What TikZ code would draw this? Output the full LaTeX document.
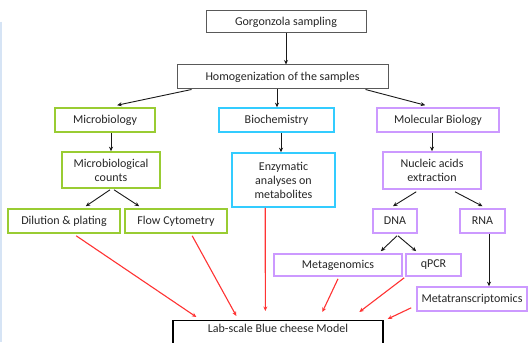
\documentclass[tikz,border=0pt]{standalone}
\usepackage{fontspec}
\setmainfont{Carlito}
\usetikzlibrary{arrows.meta,calc}
\definecolor{bgreen}{HTML}{99CC33}
\definecolor{bcyan}{HTML}{33CCFF}
\definecolor{bpurple}{HTML}{CC99FF}
\definecolor{ared}{HTML}{FF3333}
\definecolor{edgeblue}{HTML}{D6E4F5}
\begin{document}
\begin{tikzpicture}[x=1pt,y=-1pt,
  every node/.style={font=\fontsize{12}{14}\selectfont, text=black!85, align=center, inner sep=0pt},
  box/.style={draw, rectangle, minimum width=#1},
  gbox/.style={box=#1, draw=black!65, line width=1pt},
  grbox/.style={box=#1, draw=bgreen, line width=1.6pt},
  cybox/.style={box=#1, draw=bcyan, line width=1.6pt},
  pubox/.style={box=#1, draw=bpurple, line width=1.6pt},
  blk/.style={draw=black!90, line width=0.9pt, -{Stealth[length=4.5pt,width=4pt]}},
  redarr/.style={draw=ared, line width=1.1pt, -{Stealth[length=4.5pt,width=4pt]}}
]
\path[use as bounding box] (0,0) rectangle (529,342);
\fill[white] (0,0) rectangle (529,342);
\draw[edgeblue, line width=1.5pt] (1,22) -- (1,342);

\node[gbox=160, minimum height=22] (gs) at (286,22) {Gorgonzola sampling};
\node[gbox=211, minimum height=24] (hom) at (282.5,77) {Homogenization of the samples};
\node[grbox=100, minimum height=24] (mic) at (105,120) {Microbiology};
\node[cybox=115, minimum height=24] (bio) at (276.5,120) {Biochemistry};
\node[pubox=122, minimum height=24] (mol) at (438,120) {Molecular Biology};
\node[grbox=98, minimum height=36] (cnt) at (111,170) {Microbiological\\counts};
\node[cybox=103, minimum height=54] (enz) at (283.5,180) {Enzymatic\\analyses on\\metabolites};
\node[pubox=98, minimum height=37] (nuc) at (432,170.5) {Nucleic acids\\extraction};
\node[grbox=112, minimum height=24] (dil) at (64,221) {Dilution \& plating};
\node[grbox=102, minimum height=24] (flow) at (176,221) {Flow Cytometry};
\node[pubox=44, minimum height=24] (dna) at (395,221) {DNA};
\node[pubox=45, minimum height=24] (rna) at (482.5,221) {RNA};
\node[pubox=128, minimum height=22] (meta) at (338,265) {Metagenomics};
\node[pubox=55, minimum height=22] (qpcr) at (433.5,265) {qPCR};
\node[pubox=110, minimum height=24] (mtx) at (472,299) {Metatranscriptomics};
\node[box=210, draw=black, line width=1.3pt, anchor=north, text height=9pt, text depth=22pt, inner ysep=3pt] (lab) at (278,320) {Lab-scale Blue cheese Model};

% black connectors
\draw[blk] (gs.south) -- (hom.north -| gs.south);
\draw[blk] ([xshift=15pt]hom.south west) -- ($(mic.north west)+(63,-2)$);
\draw[blk] ([xshift=-5.5pt]hom.south) -- (bio.north -| {$(hom.south)+(-5.5,0)$});
\draw[blk] ([xshift=-23pt]hom.south east) -- ($(mol.north west)+(49,-2)$);
\draw[blk] (cnt.north |- mic.south) -- (cnt.north);
\draw[blk] ([xshift=4.5pt]bio.south) -- (enz.north -| {$(bio.south)+(4.5,0)$});
\draw[blk] (nuc.north |- mol.south) -- (nuc.north);
\draw[blk] ($(cnt.south)+(-1,1)$) -- ($(dil.north east)+(-35,-2)$);
\draw[blk] ($(cnt.south)+(3,1)$) -- ($(flow.north west)+(15,-2)$);
\draw[blk] ($(nuc.south west)+(34,2)$) -- ($(dna.north)+(-2,-2)$);
\draw[blk] ($(nuc.south)+(23,2)$) -- ($(rna.north)+(0,-2)$);
\draw[blk] ($(dna.south)+(2,2)$) -- ($(meta.north east)+(-22,-2)$);
\draw[blk] ($(dna.south)+(3,2)$) -- ($(qpcr.north west)+(11,-2)$);
\draw[blk] ($(rna.south)+(6.5,0)$) -- (mtx.north -| {$(rna.south)+(6.5,0)$});

% red connectors
\draw[redarr] ($(dil.south west)+(69,2)$) -- ($(lab.north west)+(24,-3)$);
\draw[redarr] ($(flow.south west)+(68,2)$) -- ($(lab.north west)+(64,-4)$);
\draw[redarr] ($(enz.south west)+(34,0)$) -- ($(lab.north west)+(93,-9)$);
\draw[redarr] ($(meta.south)+(0,2)$) -- ($(lab.north west)+(150,-8)$);
\draw[redarr] ($(qpcr.south west)+(-1,1)$) -- ($(lab.north west)+(187,-8)$);
\draw[redarr] ($(mtx.south west)+(-5,-4)$) -- ($(lab.north east)+(4,-1)$);
\end{tikzpicture}
\end{document}
